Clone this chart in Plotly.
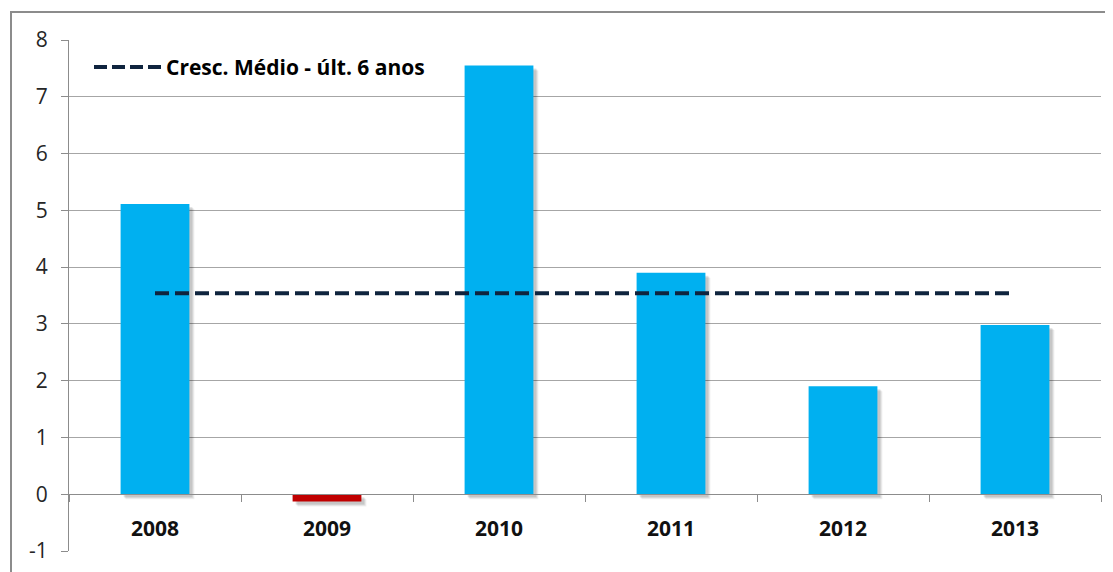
import plotly.graph_objects as go

years = ["2008", "2009", "2010", "2011", "2012", "2013"]
growth = [5.11, -0.13, 7.55, 3.90, 1.90, 2.98]
avg_line = [3.54, 3.54, 3.54, 3.54, 3.54, 3.54]
legend_name = "Cresc. Médio - últ. 6 anos"
y_ticks = [-1, 0, 1, 2, 3, 4, 5, 6, 7, 8]
y_tick_text = ["-1", "0", "1", "2", "3", "4", "5", "6", "7", "8"]

bar_colors = ["#C00000" if v < 0 else "#00B0F0" for v in growth]
line_color = "#0F243E"

# page body has an 8px default margin; compensate so the plot area lands where intended
W, H = 1113 - 8, 572 - 8
ml, mr, mt, mb = 61, 12, 32, 21
pw, ph = W - ml - mr, H - mt - mb
X0, Y1 = 69, 551  # screen position of plot area left / bottom


def px_x(sx):
    return (sx - X0) / pw


def px_y(sy):
    return (Y1 - sy) / ph


fig = go.Figure()
# soft drop shadows behind bars
for dx, dy, a in [(5, 5, 0.06), (4, 4, 0.08), (3, 3, 0.10)]:
    fig.add_trace(go.Bar(x=years, y=growth, base=-dy * (9 / ph),
                         offset=-0.2 + dx / (pw / 6), width=0.4,
                         marker=dict(color=f"rgba(0,0,0,{a})", line=dict(width=0)),
                         showlegend=False, hoverinfo="skip"))
fig.add_trace(go.Bar(x=years, y=growth, offset=-0.2, width=0.4,
                     marker=dict(color=bar_colors, line=dict(width=0)),
                     showlegend=False, hoverinfo="x+y"))
fig.add_trace(go.Scatter(x=years, y=avg_line, mode="lines", name=legend_name,
                         showlegend=False,
                         line=dict(color=line_color, width=4, dash="14px,6px")))

fig.update_layout(
    width=W, height=H,
    margin=dict(l=ml, r=mr, t=mt, b=mb, pad=0, autoexpand=False),
    paper_bgcolor="white", plot_bgcolor="white",
    barmode="overlay",
    font=dict(family="Open Sans, sans-serif", size=21, color="#000000"),
    showlegend=False,
    xaxis=dict(type="category", anchor="free", position=1 / 9, showline=True,
               linecolor="#8C8C8C", linewidth=1, ticks="outside", tickson="boundaries",
               ticklen=7, tickcolor="#8C8C8C", showgrid=False, automargin=False,
               tickfont=dict(size=21, weight="bold", color="#111111"), ticklabelstandoff=16),
    yaxis=dict(range=[-1, 8], tickvals=y_ticks, ticktext=y_tick_text, showgrid=True,
               gridcolor="#A6A6A6", gridwidth=1, automargin=False,
               zeroline=False, showline=True, linecolor="#8C8C8C", linewidth=1,
               ticks="outside", ticklen=7, tickcolor="#8C8C8C",
               tickfont=dict(size=21, color="#262626"), ticklabelstandoff=9),
)

# legend (drawn manually to get the long dashed sample of the original)
fig.add_shape(type="line", xref="paper", yref="paper",
              x0=px_x(94), x1=px_x(161), y0=px_y(67), y1=px_y(67),
              line=dict(color=line_color, width=4, dash="13px,5px"))
fig.add_annotation(xref="paper", yref="paper", x=px_x(164), y=px_y(67),
                   xanchor="left", yanchor="middle", showarrow=False,
                   text=legend_name,
                   font=dict(size=21, family="Open Sans, sans-serif", weight="bold", color="#000000"))

fig.add_shape(type="rect", xref="paper", yref="paper",
              x0=(3 - ml) / pw, x1=(W + 10 - ml) / pw,
              y0=-0.2, y1=1 + (mt - 4) / ph,
              line=dict(color="#8C8C8C", width=2), fillcolor="rgba(0,0,0,0)", layer="below")

fig.write_html("out.html")
